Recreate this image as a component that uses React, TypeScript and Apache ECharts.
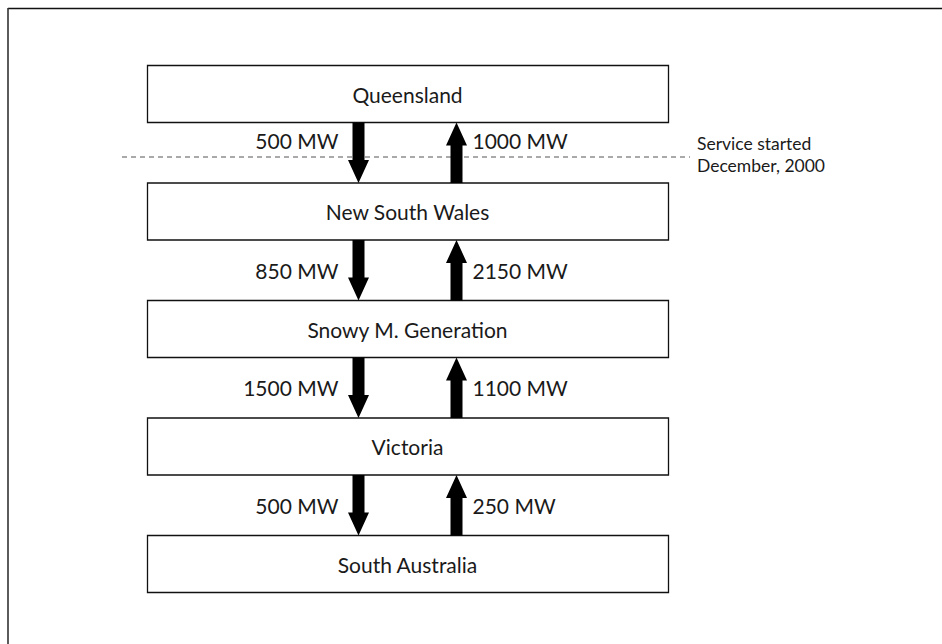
import React, { useEffect, useRef } from "react";
import * as echarts from "echarts";

// ---- data ----
const regions: string[] = [
  "Queensland",
  "New South Wales",
  "Snowy M. Generation",
  "Victoria",
  "South Australia",
];
// flow between region i and region i+1
const downFlowsMW: number[] = [500, 850, 1500, 500];
const upFlowsMW: number[] = [1000, 2150, 1100, 250];
const flowUnit = "MW";
const noteLines: string[] = ["Service started", "December, 2000"];
const noteGapIndex = 0;

// ---- layout (pixels) ----
const W = 942;
const H = 644;
const BOX_LEFT = 147;
const BOX_RIGHT = 668;
const BOX_TOP0 = 65.5;
const BOX_H = 57;
const PITCH = 117.5;
const DOWN_X = 358.5;
const UP_X = 456.5;
const SHAFT_W = 12;
const HEAD_W = 21;
const HEAD_L = 23;
const FONT = "Lato, 'Noto Sans', sans-serif";
const TEXT_COLOR = "#1a1a1a";
const MAIN_SIZE = 21;
const NOTE_SIZE = 17.5;

const boxTop = (i: number) => BOX_TOP0 + i * PITCH;
const boxBottom = (i: number) => boxTop(i) + BOX_H;

export default function App() {
  const ref = useRef<HTMLDivElement>(null);

  useEffect(() => {
    if (!ref.current) return;
    const chart = echarts.init(ref.current, undefined, { renderer: "svg" });

    const boxData = regions.map((name, i) => [i, name]);
    const flowData = downFlowsMW.map((d, i) => [i, d, upFlowsMW[i]]);

    const option: any = {
      animation: false,
      backgroundColor: "#ffffff",
      grid: { left: 0, top: 0, right: 0, bottom: 0, containLabel: false },
      xAxis: { type: "value", min: 0, max: W, show: false },
      yAxis: { type: "value", min: 0, max: H, inverse: true, show: false },
      series: [
        {
          type: "custom",
          name: "regions",
          data: boxData,
          renderItem: (params: any, api: any) => {
            const i = api.value(0);
            const name = regions[i];
            const p0 = api.coord([BOX_LEFT, boxTop(i)]);
            const p1 = api.coord([BOX_RIGHT, boxBottom(i)]);
            return {
              type: "group",
              children: [
                {
                  type: "rect",
                  shape: { x: p0[0] + 0.5, y: p0[1], width: p1[0] - p0[0], height: p1[1] - p0[1] },
                  style: { fill: "#ffffff", stroke: "#111111", lineWidth: 1.3 },
                },
                {
                  type: "text",
                  x: (p0[0] + p1[0]) / 2,
                  y: (p0[1] + p1[1]) / 2,
                  style: {
                    text: name,
                    fill: TEXT_COLOR,
                    font: `${MAIN_SIZE}px ${FONT}`,
                    align: "center",
                    verticalAlign: "middle",
                  },
                },
              ],
            };
          },
        },
        {
          type: "custom",
          name: "flows",
          data: flowData,
          renderItem: (params: any, api: any) => {
            const i = api.value(0);
            const down = api.value(1);
            const up = api.value(2);
            const yA = api.coord([0, boxBottom(i)])[1];
            const yB = api.coord([0, boxTop(i + 1)])[1];
            const dx = api.coord([DOWN_X, 0])[0];
            const ux = api.coord([UP_X, 0])[0];
            const labelY = (yA + yB) / 2 + (i === noteGapIndex ? -12 : 0);
            return {
              type: "group",
              children: [
                {
                  type: "polygon",
                  shape: {
                    points: [
                      [dx - SHAFT_W / 2, yA],
                      [dx + SHAFT_W / 2, yA],
                      [dx + SHAFT_W / 2, yB - HEAD_L],
                      [dx + HEAD_W / 2, yB - HEAD_L],
                      [dx, yB],
                      [dx - HEAD_W / 2, yB - HEAD_L],
                      [dx - SHAFT_W / 2, yB - HEAD_L],
                    ],
                  },
                  style: { fill: "#000000" },
                },
                {
                  type: "polygon",
                  shape: {
                    points: [
                      [ux - SHAFT_W / 2, yB],
                      [ux + SHAFT_W / 2, yB],
                      [ux + SHAFT_W / 2, yA + HEAD_L],
                      [ux + HEAD_W / 2, yA + HEAD_L],
                      [ux, yA],
                      [ux - HEAD_W / 2, yA + HEAD_L],
                      [ux - SHAFT_W / 2, yA + HEAD_L],
                    ],
                  },
                  style: { fill: "#000000" },
                },
                {
                  type: "text",
                  x: dx - 20,
                  y: labelY,
                  style: {
                    text: `${down} ${flowUnit}`,
                    fill: TEXT_COLOR,
                    font: `${MAIN_SIZE}px ${FONT}`,
                    align: "right",
                    verticalAlign: "middle",
                  },
                },
                {
                  type: "text",
                  x: ux + 16,
                  y: labelY,
                  style: {
                    text: `${up} ${flowUnit}`,
                    fill: TEXT_COLOR,
                    font: `${MAIN_SIZE}px ${FONT}`,
                    align: "left",
                    verticalAlign: "middle",
                  },
                },
              ],
            };
          },
        },
      ],
      graphic: [
        { type: "line", shape: { x1: 8, y1: 8.5, x2: W, y2: 8.5 }, style: { stroke: "#111111", lineWidth: 1.6 } },
        { type: "line", shape: { x1: 8, y1: 8, x2: 8, y2: H }, style: { stroke: "#333333", lineWidth: 1.6 } },
        {
          type: "line",
          shape: { x1: 122, y1: 157, x2: 690, y2: 157 },
          style: { stroke: "#555555", lineWidth: 1, lineDash: [5, 4] },
          z: -1,
        },
        {
          type: "text",
          x: 697,
          y: 132,
          style: {
            text: noteLines.join("\n"),
            fill: TEXT_COLOR,
            font: `${NOTE_SIZE}px ${FONT}`,
            lineHeight: 22,
            align: "left",
            verticalAlign: "top",
          },
        },
      ],
    };

    chart.setOption(option);
    return () => chart.dispose();
  }, []);

  return (
    <div
      ref={ref}
      style={{ position: "absolute", left: 0, top: 0, width: W, height: H }}
    />
  );
}
